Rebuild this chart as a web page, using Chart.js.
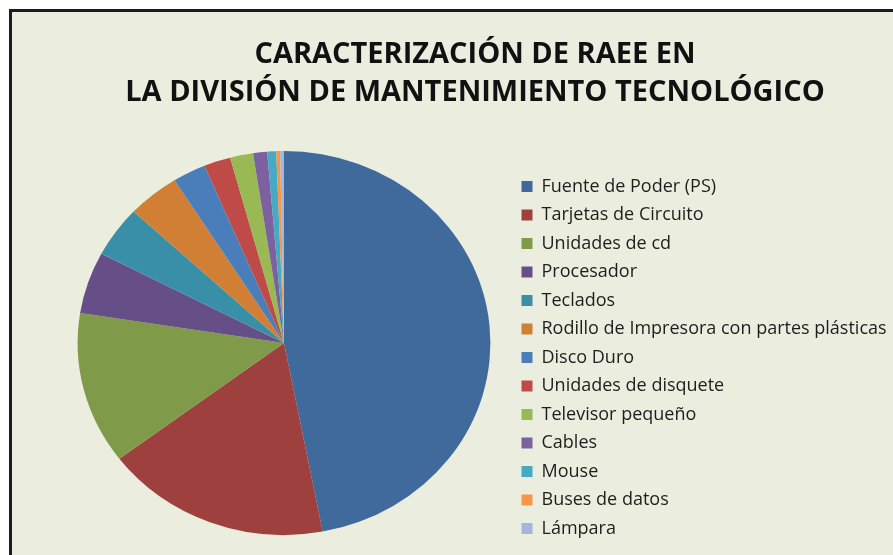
<!DOCTYPE html>
<html lang="es">
<head>
  <meta charset="UTF-8">
  <title>Caracterización de RAEE</title>
  <script src="https://cdn.jsdelivr.net/npm/chart.js"></script>
  <style>
    body { margin: 0; background: #fff; overflow: hidden; }
    #frame {
      position: absolute; left: 9px; top: 9px;
      width: 920px; height: 600px;
      border-left: 3px solid #1c1c1c; border-top: 3px solid #1c1c1c;
      background: #ebeedf;
    }
    #raeeChart { position: absolute; left: 0; top: 0; }
  </style>
</head>
<body>
<div id="frame"></div>
<canvas id="raeeChart" width="893" height="555"></canvas>

<script>
const titleLines = ['CARACTERIZACIÓN DE RAEE EN', 'LA DIVISIÓN DE MANTENIMIENTO TECNOLÓGICO'];

const categories = [
  'Fuente de Poder (PS)', 'Tarjetas de Circuito', 'Unidades de cd', 'Procesador',
  'Teclados', 'Rodillo de Impresora con partes plásticas', 'Disco Duro',
  'Unidades de disquete', 'Televisor pequeño', 'Cables', 'Mouse',
  'Buses de datos', 'Lámpara'
];

// percentages
const percentages = [47.0, 17.7, 12.8, 5.2, 4.3, 4.1, 2.6, 2.1, 1.8, 1.1, 0.7, 0.3, 0.3];

const sliceColors = [
  '#406a9c', '#9e413e', '#7f9a48', '#664f86', '#3a8fa8', '#d17f35', '#4a7ebb',
  '#be4b48', '#98b954', '#7d60a0', '#46aac5', '#f79646', '#a5b7d9'
];

// the picture is stretched sideways, so squash the pie into an ellipse
const stretchPie = {
  id: 'stretchPie',
  beforeDatasetsDraw(chart) {
    const arc = chart.getDatasetMeta(0).data[0];
    const ctx = chart.ctx;
    ctx.save();
    ctx.translate(arc.x, arc.y);
    ctx.scale(1.075, 1);
    ctx.translate(-arc.x, -arc.y);
  },
  afterDatasetsDraw(chart) {
    chart.ctx.restore();
  }
};

const ctx = document.getElementById('raeeChart').getContext('2d');
new Chart(ctx, {
  type: 'pie',
  data: {
    labels: categories,
    datasets: [{
      data: percentages,
      backgroundColor: sliceColors,
      borderWidth: 0
    }]
  },
  options: {
    responsive: false,
    animation: false,
    devicePixelRatio: 1,
    radius: 192,
    layout: { padding: { left: 57, right: 0, top: 0, bottom: 7 } },
    plugins: {
      title: {
        display: true,
        text: titleLines,
        color: '#111',
        font: { family: 'Open Sans', weight: 'bold', size: 29, lineHeight: 1.328 },
        padding: { top: 35, bottom: 26 }
      },
      legend: {
        position: 'right',
        align: 'end',
        maxWidth: 382,
        labels: {
          boxWidth: 11,
          boxHeight: 11,
          padding: 10.5,
          color: '#1e1e1e',
          font: { family: 'Open Sans', size: 18 }
        }
      },
      tooltip: { enabled: false }
    }
  },
  plugins: [stretchPie]
});
</script>
</body>
</html>
